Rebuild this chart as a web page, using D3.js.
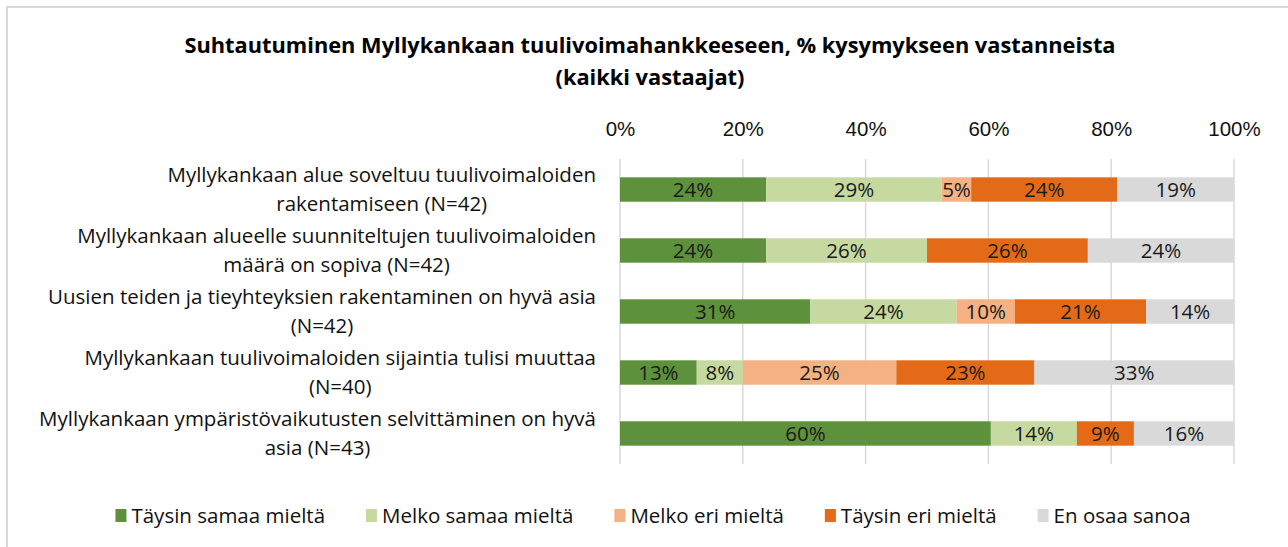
<!DOCTYPE html>
<html>
<head>
<meta charset="utf-8">
<script src="https://cdn.jsdelivr.net/npm/d3@7"></script>
<style>
  html, body { margin: 0; padding: 0; background: #fff; }
  svg { display: block; font-family: "Open Sans", Lato, sans-serif; }
</style>
</head>
<body>
<svg id="chart" width="1288" height="547"></svg>
<script>
// ---- data ----
const titleLines = ["Suhtautuminen Myllykankaan tuulivoimahankkeeseen, % kysymykseen vastanneista", "(kaikki vastaajat)"];
const categories = [
  "Myllykankaan alue soveltuu tuulivoimaloiden\nrakentamiseen (N=42)",
  "Myllykankaan alueelle suunniteltujen tuulivoimaloiden\nmäärä on sopiva (N=42)",
  "Uusien teiden ja tieyhteyksien rakentaminen on hyvä asia\n(N=42)",
  "Myllykankaan tuulivoimaloiden sijaintia tulisi muuttaa\n(N=40)",
  "Myllykankaan ympäristövaikutusten selvittäminen on hyvä\nasia (N=43)"
];
const seriesNames = ["Täysin samaa mieltä", "Melko samaa mieltä", "Melko eri mieltä", "Täysin eri mieltä", "En osaa sanoa"];
const taysinSamaa = [23.8, 23.8, 31.0, 12.5, 60.4];
const melkoSamaa  = [28.6, 26.2, 23.8, 7.5, 14.0];
const melkoEri    = [4.8, 0, 9.5, 25.0, 0];
const taysinEri   = [23.8, 26.2, 21.4, 22.5, 9.3];
const enOsaa      = [19.0, 23.8, 14.3, 32.5, 16.3];
const tickValues = [0, 20, 40, 60, 80, 100];
const colors = ["#5e913b", "#c5d9a0", "#f4b183", "#e36b17", "#d9d9d9"];

// ---- chart ----
const svg = d3.select("#chart");
const seriesValues = [taysinSamaa, melkoSamaa, melkoEri, taysinEri, enOsaa];
const FS = 20.5;

// border
svg.append("rect").attr("x", 7).attr("y", 7).attr("width", 1300).attr("height", 560)
  .attr("fill", "none").attr("stroke", "#d9d9d9").attr("stroke-width", 2);

// title
svg.append("g").selectAll("text").data(titleLines).join("text")
  .attr("x", 650).attr("y", (d, i) => 53 + i * 32)
  .attr("text-anchor", "middle").attr("font-weight", "bold").attr("font-size", 21.8)
  .attr("fill", "#000").text(d => d);

const x = d3.scaleLinear().domain([0, 100]).range([620, 1234]);
const y = d3.scaleBand().domain(categories).range([159, 464]).paddingInner(0.6).paddingOuter(0.3);

// gridlines
svg.append("g").selectAll("line").data(tickValues).join("line")
  .attr("x1", d => x(d)).attr("x2", d => x(d)).attr("y1", 159).attr("y2", 464)
  .attr("stroke", "#d9d9d9").attr("stroke-width", 1.5);

// top axis labels
const xAxis = d3.axisTop(x).tickValues(tickValues).tickFormat(d => d + "%").tickSize(0).tickPadding(0);
const ax = svg.append("g").attr("transform", "translate(0,136)").call(xAxis);
ax.select(".domain").remove();
ax.selectAll("text").attr("font-size", FS).attr("fill", "#111").attr("font-family", null);

// stacked data
const rows = categories.map((c, i) => {
  const o = { cat: c };
  seriesNames.forEach((s, j) => o[s] = seriesValues[j][i]);
  return o;
});
const stacked = d3.stack().keys(seriesNames)(rows);

const layers = svg.append("g").selectAll("g").data(stacked).join("g")
  .attr("fill", (d, i) => colors[i]);
layers.selectAll("rect").data(d => d).join("rect")
  .attr("x", d => x(d[0])).attr("width", d => x(d[1]) - x(d[0]))
  .attr("y", d => y(d.data.cat)).attr("height", y.bandwidth());

// data labels
const lab = svg.append("g");
stacked.forEach(layer => {
  layer.forEach(d => {
    const v = d[1] - d[0];
    if (v <= 0) return;
    lab.append("text")
      .attr("x", x((d[0] + d[1]) / 2))
      .attr("y", y(d.data.cat) + y.bandwidth() / 2)
      .attr("dy", "0.36em").attr("text-anchor", "middle")
      .attr("font-size", FS).attr("fill", "#1a1a1a")
      .text(Math.round(v) + "%");
  });
});

// category labels
const cl = svg.append("g");
categories.forEach(c => {
  const lines = c.split("\n");
  const cy = y(c) + y.bandwidth() / 2;
  const lh = 29;
  const t1 = cl.append("text").attr("x", 596).attr("text-anchor", "end")
    .attr("y", cy - lh / 2).attr("dy", "0.36em").attr("font-size", FS).attr("fill", "#111").text(lines[0]);
  const w1 = t1.node().getComputedTextLength();
  cl.append("text").attr("x", 596 - w1 / 2).attr("text-anchor", "middle")
    .attr("y", cy + lh / 2).attr("dy", "0.36em").attr("font-size", FS).attr("fill", "#111").text(lines[1]);
});

// legend
const lg = svg.append("g");
const items = seriesNames.map((s, i) => {
  const g = lg.append("g");
  g.append("rect").attr("x", 0).attr("y", -7).attr("width", 11).attr("height", 13).attr("fill", colors[i]);
  const t = g.append("text").attr("x", 16).attr("y", 0).attr("dy", "0.36em")
    .attr("font-size", FS).attr("fill", "#111").text(s);
  return { g, w: 16 + t.node().getComputedTextLength() };
});
const gap = 41;
const total = d3.sum(items, d => d.w) + gap * (items.length - 1);
let cx = 653 - total / 2;
items.forEach(it => { it.g.attr("transform", `translate(${cx},516)`); cx += it.w + gap; });
</script>
</body>
</html>
